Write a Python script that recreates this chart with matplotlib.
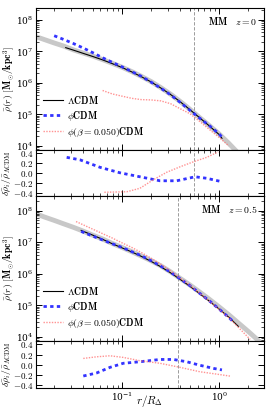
import matplotlib
matplotlib.use("Agg")
import matplotlib.pyplot as plt
import numpy as np

plt.rcParams['font.family'] = 'serif'
plt.rcParams['font.serif'] = ['DejaVu Serif']
plt.rcParams['mathtext.fontset'] = 'cm'

# ---------------- z = 0 panel ----------------
r_fit0 = [0.0130, 0.0200, 0.0251, 0.0316, 0.0398, 0.0501, 0.0631, 0.0794, 0.100, 0.126, 0.158,
          0.200, 0.251, 0.316, 0.398, 0.501, 0.631, 0.794, 1.00, 1.26, 1.58]
rho_fit0 = [2.95e7, 1.86e7, 1.48e7, 1.12e7, 8.9e6, 7.1e6, 5.5e6, 4.2e6, 3.16e6, 2.29e6, 1.62e6,
            1.10e6, 7.1e5, 4.4e5, 2.57e5, 1.45e5, 7.9e4, 4.4e4, 2.40e4, 1.20e4, 5.8e3]

r_lcdm0 = [0.0263, 0.0316, 0.0398, 0.0501, 0.0631, 0.0794, 0.100, 0.126, 0.158, 0.200, 0.251,
           0.316, 0.398, 0.501, 0.631, 0.794, 1.00, 1.07]
rho_lcdm0 = [1.32e7, 1.10e7, 8.7e6, 6.9e6, 5.4e6, 4.1e6, 3.09e6, 2.24e6, 1.58e6, 1.07e6, 6.9e5,
             4.3e5, 2.51e5, 1.41e5, 7.8e4, 4.3e4, 2.29e4, 1.74e4]

r_phi0 = [0.0200, 0.0251, 0.0316, 0.0398, 0.0501, 0.0631, 0.0794, 0.100, 0.126, 0.158, 0.200,
          0.251, 0.316, 0.398, 0.501, 0.631, 0.794, 1.00, 1.07]
rho_phi0 = [3.16e7, 2.40e7, 1.78e7, 1.29e7, 9.1e6, 6.3e6, 4.5e6, 3.24e6, 2.29e6, 1.62e6, 1.05e6,
            6.8e5, 4.2e5, 2.40e5, 1.35e5, 7.6e4, 4.4e4, 2.40e4, 1.90e4]

r_beta0 = [0.0631, 0.0794, 0.100, 0.126, 0.158, 0.200, 0.251, 0.316, 0.398, 0.501, 0.631,
           0.794, 1.00, 1.26]
rho_beta0 = [5.75e5, 4.47e5, 3.80e5, 3.24e5, 2.95e5, 2.88e5, 2.69e5, 2.19e5, 1.51e5, 1.05e5,
             6.0e4, 3.31e4, 1.86e4, 1.0e4]

r_res_phi0 = [0.0269, 0.0369, 0.0593, 0.0953, 0.153, 0.246, 0.366, 0.566, 0.746, 1.02]
res_phi0 = [0.32, 0.27, 0.12, 0.01, -0.07, -0.15, -0.15, -0.07, -0.10, -0.16]

r_res_beta0 = [0.0658, 0.112, 0.153, 0.210, 0.288, 0.396, 0.543, 0.746, 0.98]
res_beta0 = [-0.38, -0.37, -0.30, -0.13, 0.02, 0.13, 0.23, 0.32, 0.43]

r_vir0 = 0.55

# ---------------- z = 0.5 panel ----------------
r_fit5 = [0.0130, 0.0158, 0.0200, 0.0251, 0.0316, 0.0398, 0.0501, 0.0631, 0.0794, 0.100, 0.126,
          0.158, 0.200, 0.251, 0.316, 0.398, 0.501, 0.631, 0.794, 1.00, 1.26, 1.58, 2.00, 2.51, 2.88]
rho_fit5 = [7.9e7, 6.3e7, 4.9e7, 3.8e7, 2.95e7, 2.24e7, 1.66e7, 1.26e7, 9.1e6, 6.8e6, 5.0e6,
            3.63e6, 2.57e6, 1.78e6, 1.15e6, 7.1e5, 4.4e5, 2.63e5, 1.55e5, 8.9e4, 5.0e4,
            2.75e4, 1.48e4, 7.9e3, 5.4e3]

r_lcdm5 = [0.0380, 0.0501, 0.0631, 0.0794, 0.100, 0.126, 0.158, 0.200, 0.251, 0.316, 0.398,
           0.501, 0.631, 0.794, 1.00, 1.26, 1.58]
rho_lcdm5 = [2.34e7, 1.66e7, 1.23e7, 8.9e6, 6.6e6, 4.9e6, 3.55e6, 2.45e6, 1.66e6, 1.07e6, 6.6e5,
             4.0e5, 2.34e5, 1.35e5, 7.6e4, 4.2e4, 2.14e4]

r_phi5 = [0.0380, 0.0501, 0.0631, 0.0794, 0.100, 0.126, 0.158, 0.200, 0.251, 0.316, 0.398,
          0.501, 0.631, 0.794, 1.00, 1.26, 1.41]
rho_phi5 = [2.19e7, 1.55e7, 1.17e7, 8.9e6, 6.8e6, 5.0e6, 3.72e6, 2.57e6, 1.74e6, 1.12e6, 6.9e5,
            4.2e5, 2.40e5, 1.38e5, 7.6e4, 4.1e4, 2.95e4]

r_beta5 = [0.0336, 0.0398, 0.0501, 0.0631, 0.0794, 0.100, 0.126, 0.158, 0.200, 0.251, 0.316,
           0.398, 0.501, 0.631, 0.794, 1.00, 1.26, 1.58, 2.09]
rho_beta5 = [4.5e7, 3.55e7, 2.57e7, 1.86e7, 1.35e7, 9.5e6, 6.8e6, 4.7e6, 3.09e6, 2.0e6, 1.23e6,
             7.2e5, 4.3e5, 2.40e5, 1.35e5, 7.4e4, 4.0e4, 2.0e4, 8.3e3]

r_res_phi5 = [0.0399, 0.0548, 0.0752, 0.103, 0.153, 0.246, 0.338, 0.464, 0.637, 0.873, 1.07]
res_phi5 = [-0.22, -0.16, -0.05, 0.03, 0.06, 0.105, 0.105, 0.06, -0.01, -0.07, -0.10]

r_res_beta5 = [0.0399, 0.0548, 0.0752, 0.103, 0.153, 0.246, 0.396, 0.637, 0.946, 1.30]
res_beta5 = [0.125, 0.157, 0.177, 0.145, 0.08, 0.03, -0.05, -0.137, -0.183, -0.222]

r_vir5 = 0.375

labels = [r'$\Lambda\mathbf{CDM}$', r'$\phi\mathbf{CDM}$', r'$\phi(\beta=0.050)\mathbf{CDM}$']
xlim = (0.013, 2.9)

fig = plt.figure(figsize=(2.69, 4.16), dpi=100)
left, width = 36 / 269, 228 / 269
ax_m0 = fig.add_axes([left, 1 - 150 / 416, width, 142 / 416])
ax_r0 = fig.add_axes([left, 1 - 196 / 416, width, 46 / 416])
ax_m5 = fig.add_axes([left, 1 - 341 / 416, width, 145 / 416])
ax_r5 = fig.add_axes([left, 1 - 388 / 416, width, 47 / 416])

grey = '#c8c8c8'
blue = '#3333ff'
red = '#ff7777'


def style(ax):
    ax.set_xscale('log')
    ax.set_xlim(*xlim)
    ax.tick_params(which='both', direction='in', top=True, right=True, labelsize=6.5, pad=2)
    ax.tick_params(which='major', length=4, width=0.7)
    ax.tick_params(which='minor', length=2, width=0.5)


def main_panel(ax, rf, yf, rl, yl, rp, yp, rb, yb, rvir, ztxt, ylim):
    ax.plot(rf, yf, color=grey, lw=3.5, solid_capstyle='butt', zorder=1)
    ax.plot(rl, yl, color='k', lw=0.8, label=labels[0], zorder=3)
    ax.plot(rp, yp, color=blue, lw=2, ls=(0, (1.2, 1.2)), label=labels[1], zorder=4)
    ax.plot(rb, yb, color=red, lw=1, ls=(0, (1, 1)), alpha=0.8, label=labels[2], zorder=5)
    ax.axvline(rvir, color='0.55', lw=0.6, ls=(0, (4, 2)))
    ax.set_yscale('log')
    style(ax)
    ax.set_ylim(*ylim)
    ax.set_yticks([1e4, 1e5, 1e6, 1e7, 1e8])
    ax.tick_params(axis='x', which='both', labelbottom=False)
    ax.set_ylabel(r'$\bar{\rho}(r)\ [\mathbf{M_{\odot}/kpc^{3}}]$', fontsize=7)
    ax.yaxis.set_label_coords(-0.085, 0.5)
    ax.legend(loc='lower left', bbox_to_anchor=(0.0, 0.03), frameon=False, fontsize=7,
              handlelength=2.1, handletextpad=0.4, labelspacing=0.3, borderaxespad=0.3)
    ax.text(0.97, 0.95, ztxt, transform=ax.transAxes, ha='right', va='top', fontsize=7)


def res_panel(ax, rp, yp, rb, yb, rvir):
    ax.plot(rp, yp, color=blue, lw=2, ls=(0, (1.2, 1.2)), zorder=4)
    ax.plot(rb, yb, color=red, lw=1, ls=(0, (1, 1)), alpha=0.8, zorder=5)
    ax.axvline(rvir, color='0.55', lw=0.6, ls=(0, (4, 2)))
    style(ax)
    ax.set_ylim(-0.455, 0.467)
    ax.set_yticks([-0.4, -0.2, 0.0, 0.2, 0.4])
    ax.set_yticklabels(['$-0.4$', '$-0.2$', '$0.0$', '$0.2$', '$0.4$'])
    ax.set_ylabel(r'$\delta\bar{\rho}_i/\bar{\rho}_{\Lambda\mathrm{CDM}}$', fontsize=7)
    ax.yaxis.set_label_coords(-0.1, 0.5)


main_panel(ax_m0, r_fit0, rho_fit0, r_lcdm0, rho_lcdm0, r_phi0, rho_phi0, r_beta0, rho_beta0,
           r_vir0, r'$\mathbf{MM}\quad z=0$', (7.4e3, 2.4e8))
res_panel(ax_r0, r_res_phi0, res_phi0, r_res_beta0, res_beta0, r_vir0)
ax_r0.tick_params(axis='x', which='both', labelbottom=False)

main_panel(ax_m5, r_fit5, rho_fit5, r_lcdm5, rho_lcdm5, r_phi5, rho_phi5, r_beta5, rho_beta5,
           r_vir5, r'$\mathbf{MM}\quad z=0.5$', (7.4e3, 2.9e8))
res_panel(ax_r5, r_res_phi5, res_phi5, r_res_beta5, res_beta5, r_vir5)
ax_r5.set_xlabel(r'$r/R_{\Delta}$', fontsize=8)
ax_r5.xaxis.set_label_coords(0.5, -0.1)

fig.savefig('out.png', dpi=100)
